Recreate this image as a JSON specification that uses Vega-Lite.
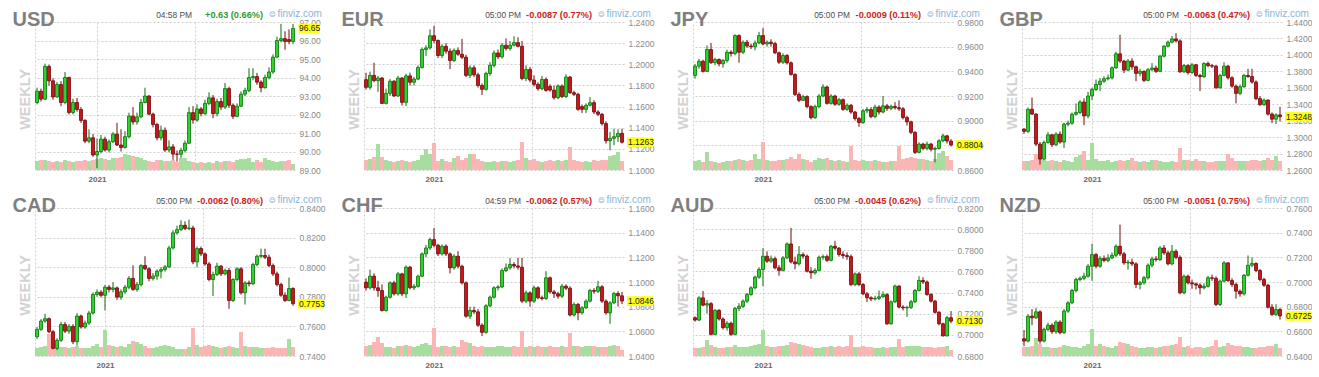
{
"$schema":"https://vega.github.io/schema/vega-lite/v6.json",
"padding":{"left":12,"top":9,"right":0,"bottom":0},
"background":"white",
"config":{"view":{"stroke":null},"font":"Liberation Sans","header":{"labels":false,"title":null,"labelFontSize":0,"labelPadding":0,"titlePadding":0},"headerFacet":{"labels":false,"title":null,"labelFontSize":0,"labelPadding":0,"titlePadding":0}},
"data":{"values":[
{"p":"USD","d":"2020-09-18","o":92.65,"h":93.45,"l":92.55,"c":93.26,"v":9},
{"p":"USD","d":"2020-09-25","o":93.26,"h":93.40,"l":92.70,"c":92.83,"v":10},
{"p":"USD","d":"2020-10-02","o":92.83,"h":94.75,"l":92.78,"c":94.60,"v":10},
{"p":"USD","d":"2020-10-09","o":94.60,"h":94.70,"l":93.55,"c":93.82,"v":9},
{"p":"USD","d":"2020-10-16","o":93.82,"h":93.95,"l":92.80,"c":92.95,"v":8},
{"p":"USD","d":"2020-10-23","o":92.95,"h":93.75,"l":92.90,"c":93.62,"v":9},
{"p":"USD","d":"2020-10-30","o":93.62,"h":93.80,"l":92.45,"c":92.65,"v":8},
{"p":"USD","d":"2020-11-06","o":92.65,"h":94.30,"l":92.55,"c":94.00,"v":10},
{"p":"USD","d":"2020-11-13","o":94.00,"h":94.05,"l":92.00,"c":92.11,"v":9},
{"p":"USD","d":"2020-11-20","o":92.11,"h":92.85,"l":92.00,"c":92.65,"v":8},
{"p":"USD","d":"2020-11-27","o":92.65,"h":92.90,"l":92.15,"c":92.27,"v":9},
{"p":"USD","d":"2020-12-04","o":92.27,"h":92.40,"l":91.55,"c":91.68,"v":9},
{"p":"USD","d":"2020-12-11","o":91.68,"h":91.75,"l":90.45,"c":90.56,"v":10},
{"p":"USD","d":"2020-12-18","o":90.56,"h":91.20,"l":90.45,"c":90.74,"v":9},
{"p":"USD","d":"2020-12-25","o":90.74,"h":90.95,"l":89.72,"c":89.81,"v":10},
{"p":"USD","d":"2021-01-01","o":89.81,"h":90.70,"l":89.10,"c":90.00,"v":11},
{"p":"USD","d":"2021-01-08","o":90.00,"h":90.90,"l":89.90,"c":90.67,"v":12},
{"p":"USD","d":"2021-01-15","o":90.67,"h":90.80,"l":90.00,"c":90.08,"v":11},
{"p":"USD","d":"2021-01-22","o":90.08,"h":90.65,"l":89.95,"c":90.53,"v":10},
{"p":"USD","d":"2021-01-29","o":90.53,"h":91.05,"l":90.45,"c":90.94,"v":12},
{"p":"USD","d":"2021-02-05","o":90.94,"h":91.55,"l":90.30,"c":90.35,"v":12},
{"p":"USD","d":"2021-02-12","o":90.35,"h":91.20,"l":90.00,"c":90.22,"v":13},
{"p":"USD","d":"2021-02-19","o":90.22,"h":91.10,"l":90.15,"c":90.80,"v":16},
{"p":"USD","d":"2021-02-26","o":90.80,"h":92.10,"l":90.70,"c":91.91,"v":15},
{"p":"USD","d":"2021-03-05","o":91.91,"h":92.40,"l":91.45,"c":91.60,"v":14},
{"p":"USD","d":"2021-03-12","o":91.60,"h":92.10,"l":91.45,"c":91.87,"v":13},
{"p":"USD","d":"2021-03-19","o":91.87,"h":92.85,"l":91.80,"c":92.65,"v":12},
{"p":"USD","d":"2021-03-26","o":92.65,"h":93.45,"l":92.60,"c":93.00,"v":10},
{"p":"USD","d":"2021-04-02","o":93.00,"h":93.05,"l":91.95,"c":92.02,"v":9},
{"p":"USD","d":"2021-04-09","o":92.02,"h":92.10,"l":91.30,"c":91.46,"v":8},
{"p":"USD","d":"2021-04-16","o":91.46,"h":91.55,"l":90.60,"c":90.74,"v":10},
{"p":"USD","d":"2021-04-23","o":90.74,"h":91.40,"l":90.60,"c":91.15,"v":10},
{"p":"USD","d":"2021-04-30","o":91.15,"h":91.30,"l":89.98,"c":90.08,"v":9},
{"p":"USD","d":"2021-05-07","o":90.08,"h":90.60,"l":89.95,"c":90.25,"v":9},
{"p":"USD","d":"2021-05-14","o":90.25,"h":90.40,"l":89.55,"c":89.86,"v":10},
{"p":"USD","d":"2021-05-21","o":89.86,"h":90.05,"l":89.45,"c":89.85,"v":8},
{"p":"USD","d":"2021-05-28","o":89.85,"h":90.20,"l":89.65,"c":90.06,"v":12},
{"p":"USD","d":"2021-06-04","o":90.06,"h":90.60,"l":89.95,"c":90.45,"v":12},
{"p":"USD","d":"2021-06-11","o":90.45,"h":92.40,"l":90.40,"c":92.10,"v":9},
{"p":"USD","d":"2021-06-18","o":92.10,"h":92.45,"l":91.50,"c":91.70,"v":8},
{"p":"USD","d":"2021-06-25","o":91.70,"h":92.55,"l":91.60,"c":92.30,"v":7},
{"p":"USD","d":"2021-07-02","o":92.30,"h":92.40,"l":91.90,"c":92.05,"v":8},
{"p":"USD","d":"2021-07-09","o":92.05,"h":92.80,"l":91.95,"c":92.60,"v":7},
{"p":"USD","d":"2021-07-16","o":92.60,"h":93.20,"l":92.50,"c":92.90,"v":8},
{"p":"USD","d":"2021-07-23","o":92.90,"h":93.05,"l":91.80,"c":92.05,"v":7},
{"p":"USD","d":"2021-07-30","o":92.05,"h":92.85,"l":91.90,"c":92.70,"v":9},
{"p":"USD","d":"2021-08-06","o":92.70,"h":92.90,"l":92.25,"c":92.40,"v":8},
{"p":"USD","d":"2021-08-13","o":92.40,"h":93.70,"l":92.30,"c":93.40,"v":9},
{"p":"USD","d":"2021-08-20","o":93.40,"h":93.50,"l":92.35,"c":92.50,"v":9},
{"p":"USD","d":"2021-08-27","o":92.50,"h":92.60,"l":91.75,"c":91.90,"v":8},
{"p":"USD","d":"2021-09-03","o":91.90,"h":92.60,"l":91.85,"c":92.45,"v":10},
{"p":"USD","d":"2021-09-10","o":92.45,"h":93.25,"l":92.40,"c":93.10,"v":11},
{"p":"USD","d":"2021-09-17","o":93.10,"h":93.45,"l":93.00,"c":93.30,"v":11},
{"p":"USD","d":"2021-09-24","o":93.30,"h":94.50,"l":93.20,"c":94.00,"v":12},
{"p":"USD","d":"2021-10-01","o":94.00,"h":94.50,"l":93.85,"c":94.05,"v":8},
{"p":"USD","d":"2021-10-08","o":94.05,"h":94.25,"l":93.60,"c":93.75,"v":10},
{"p":"USD","d":"2021-10-15","o":93.75,"h":93.85,"l":93.20,"c":93.45,"v":8},
{"p":"USD","d":"2021-10-22","o":93.45,"h":94.15,"l":93.40,"c":94.00,"v":12},
{"p":"USD","d":"2021-10-29","o":94.00,"h":94.55,"l":93.90,"c":94.30,"v":10},
{"p":"USD","d":"2021-11-05","o":94.30,"h":95.25,"l":94.20,"c":95.10,"v":9},
{"p":"USD","d":"2021-11-12","o":95.10,"h":96.20,"l":95.05,"c":96.00,"v":8},
{"p":"USD","d":"2021-11-19","o":96.00,"h":96.90,"l":95.90,"c":96.10,"v":9},
{"p":"USD","d":"2021-11-26","o":96.10,"h":96.50,"l":95.50,"c":95.95,"v":9},
{"p":"USD","d":"2021-12-03","o":96.05,"h":96.60,"l":95.80,"c":95.95,"v":10},
{"p":"USD","d":"2021-12-10","o":95.95,"h":96.90,"l":95.80,"c":96.65,"v":6,"t":"04:58 PM","chg":"+0.63 (0.66%)","tag":"96.65"},
{"p":"EUR","d":"2020-09-04","o":1.1855,"h":1.1920,"l":1.1760,"c":1.1782,"v":10},
{"p":"EUR","d":"2020-09-11","o":1.1782,"h":1.1930,"l":1.1760,"c":1.1895,"v":11},
{"p":"EUR","d":"2020-09-18","o":1.1895,"h":1.2015,"l":1.1830,"c":1.1845,"v":13},
{"p":"EUR","d":"2020-09-25","o":1.1845,"h":1.1890,"l":1.1740,"c":1.1870,"v":26},
{"p":"EUR","d":"2020-10-02","o":1.1870,"h":1.1880,"l":1.1625,"c":1.1630,"v":13},
{"p":"EUR","d":"2020-10-09","o":1.1630,"h":1.1770,"l":1.1620,"c":1.1725,"v":10},
{"p":"EUR","d":"2020-10-16","o":1.1725,"h":1.1860,"l":1.1700,"c":1.1840,"v":9},
{"p":"EUR","d":"2020-10-23","o":1.1840,"h":1.1850,"l":1.1690,"c":1.1700,"v":8},
{"p":"EUR","d":"2020-10-30","o":1.1700,"h":1.1890,"l":1.1690,"c":1.1870,"v":9},
{"p":"EUR","d":"2020-11-06","o":1.1870,"h":1.1880,"l":1.1610,"c":1.1640,"v":10},
{"p":"EUR","d":"2020-11-13","o":1.1640,"h":1.1910,"l":1.1605,"c":1.1890,"v":9},
{"p":"EUR","d":"2020-11-20","o":1.1890,"h":1.1920,"l":1.1800,"c":1.1830,"v":8},
{"p":"EUR","d":"2020-11-27","o":1.1830,"h":1.1880,"l":1.1800,"c":1.1860,"v":9},
{"p":"EUR","d":"2020-12-04","o":1.1860,"h":1.1990,"l":1.1850,"c":1.1970,"v":10},
{"p":"EUR","d":"2020-12-11","o":1.1970,"h":1.2160,"l":1.1960,"c":1.2140,"v":15},
{"p":"EUR","d":"2020-12-18","o":1.2140,"h":1.2180,"l":1.2080,"c":1.2155,"v":21},
{"p":"EUR","d":"2020-12-25","o":1.2155,"h":1.2330,"l":1.2140,"c":1.2270,"v":16},
{"p":"EUR","d":"2021-01-01","o":1.2270,"h":1.2365,"l":1.2200,"c":1.2225,"v":27},
{"p":"EUR","d":"2021-01-08","o":1.2225,"h":1.2235,"l":1.2060,"c":1.2083,"v":9},
{"p":"EUR","d":"2021-01-15","o":1.2083,"h":1.2190,"l":1.2060,"c":1.2170,"v":11},
{"p":"EUR","d":"2021-01-22","o":1.2170,"h":1.2200,"l":1.2100,"c":1.2124,"v":9},
{"p":"EUR","d":"2021-01-29","o":1.2124,"h":1.2150,"l":1.1955,"c":1.2036,"v":8},
{"p":"EUR","d":"2021-02-05","o":1.2036,"h":1.2150,"l":1.2020,"c":1.2130,"v":12},
{"p":"EUR","d":"2021-02-12","o":1.2130,"h":1.2160,"l":1.2080,"c":1.2095,"v":14},
{"p":"EUR","d":"2021-02-19","o":1.2095,"h":1.2240,"l":1.2050,"c":1.2067,"v":10},
{"p":"EUR","d":"2021-02-26","o":1.2067,"h":1.2090,"l":1.1880,"c":1.1895,"v":12},
{"p":"EUR","d":"2021-03-05","o":1.1895,"h":1.1990,"l":1.1870,"c":1.1967,"v":16},
{"p":"EUR","d":"2021-03-12","o":1.1967,"h":1.1990,"l":1.1880,"c":1.1900,"v":16},
{"p":"EUR","d":"2021-03-19","o":1.1900,"h":1.1920,"l":1.1780,"c":1.1800,"v":11},
{"p":"EUR","d":"2021-03-26","o":1.1800,"h":1.1820,"l":1.1710,"c":1.1763,"v":9},
{"p":"EUR","d":"2021-04-02","o":1.1763,"h":1.1930,"l":1.1750,"c":1.1913,"v":8},
{"p":"EUR","d":"2021-04-09","o":1.1913,"h":1.2020,"l":1.1890,"c":1.1990,"v":8},
{"p":"EUR","d":"2021-04-16","o":1.1990,"h":1.2130,"l":1.1970,"c":1.2107,"v":9},
{"p":"EUR","d":"2021-04-23","o":1.2107,"h":1.2140,"l":1.2050,"c":1.2070,"v":8},
{"p":"EUR","d":"2021-04-30","o":1.2070,"h":1.2200,"l":1.2055,"c":1.2180,"v":9},
{"p":"EUR","d":"2021-05-07","o":1.2180,"h":1.2245,"l":1.2130,"c":1.2150,"v":9},
{"p":"EUR","d":"2021-05-14","o":1.2150,"h":1.2220,"l":1.2130,"c":1.2180,"v":8},
{"p":"EUR","d":"2021-05-21","o":1.2180,"h":1.2265,"l":1.2170,"c":1.2205,"v":9},
{"p":"EUR","d":"2021-05-28","o":1.2205,"h":1.2255,"l":1.2160,"c":1.2170,"v":10},
{"p":"EUR","d":"2021-06-04","o":1.2170,"h":1.2220,"l":1.1850,"c":1.1866,"v":28},
{"p":"EUR","d":"2021-06-11","o":1.1866,"h":1.1990,"l":1.1840,"c":1.1951,"v":12},
{"p":"EUR","d":"2021-06-18","o":1.1951,"h":1.1975,"l":1.1830,"c":1.1851,"v":10},
{"p":"EUR","d":"2021-06-25","o":1.1851,"h":1.1895,"l":1.1790,"c":1.1810,"v":11},
{"p":"EUR","d":"2021-07-02","o":1.1810,"h":1.1830,"l":1.1750,"c":1.1769,"v":9},
{"p":"EUR","d":"2021-07-09","o":1.1769,"h":1.1890,"l":1.1755,"c":1.1857,"v":8},
{"p":"EUR","d":"2021-07-16","o":1.1857,"h":1.1875,"l":1.1740,"c":1.1753,"v":9},
{"p":"EUR","d":"2021-07-23","o":1.1790,"h":1.1810,"l":1.1740,"c":1.1756,"v":10},
{"p":"EUR","d":"2021-07-30","o":1.1756,"h":1.1800,"l":1.1665,"c":1.1684,"v":9},
{"p":"EUR","d":"2021-08-06","o":1.1684,"h":1.1810,"l":1.1670,"c":1.1794,"v":10},
{"p":"EUR","d":"2021-08-13","o":1.1794,"h":1.1810,"l":1.1680,"c":1.1694,"v":9},
{"p":"EUR","d":"2021-08-20","o":1.1694,"h":1.1905,"l":1.1680,"c":1.1879,"v":10},
{"p":"EUR","d":"2021-08-27","o":1.1879,"h":1.1890,"l":1.1720,"c":1.1731,"v":23},
{"p":"EUR","d":"2021-09-03","o":1.1731,"h":1.1750,"l":1.1700,"c":1.1716,"v":10},
{"p":"EUR","d":"2021-09-10","o":1.1716,"h":1.1730,"l":1.1560,"c":1.1574,"v":9},
{"p":"EUR","d":"2021-09-17","o":1.1600,"h":1.1620,"l":1.1540,"c":1.1574,"v":8},
{"p":"EUR","d":"2021-09-24","o":1.1574,"h":1.1630,"l":1.1540,"c":1.1612,"v":9},
{"p":"EUR","d":"2021-10-01","o":1.1612,"h":1.1690,"l":1.1600,"c":1.1637,"v":8},
{"p":"EUR","d":"2021-10-08","o":1.1637,"h":1.1660,"l":1.1530,"c":1.1549,"v":10},
{"p":"EUR","d":"2021-10-15","o":1.1549,"h":1.1565,"l":1.1510,"c":1.1527,"v":9},
{"p":"EUR","d":"2021-10-22","o":1.1527,"h":1.1540,"l":1.1420,"c":1.1439,"v":10},
{"p":"EUR","d":"2021-10-29","o":1.1439,"h":1.1460,"l":1.1250,"c":1.1276,"v":10},
{"p":"EUR","d":"2021-11-05","o":1.1276,"h":1.1360,"l":1.1186,"c":1.1300,"v":14},
{"p":"EUR","d":"2021-11-12","o":1.1300,"h":1.1390,"l":1.1235,"c":1.1315,"v":15},
{"p":"EUR","d":"2021-11-19","o":1.1315,"h":1.1385,"l":1.1265,"c":1.1347,"v":18},
{"p":"EUR","d":"2021-11-26","o":1.1347,"h":1.1390,"l":1.1250,"c":1.1263,"v":9,"t":"05:00 PM","chg":"-0.0087 (0.77%)","tag":"1.1263"},
{"p":"JPY","d":"2020-09-04","o":0.9367,"h":0.9460,"l":0.9340,"c":0.9442,"v":9},
{"p":"JPY","d":"2020-09-11","o":0.9442,"h":0.9500,"l":0.9420,"c":0.9482,"v":10},
{"p":"JPY","d":"2020-09-18","o":0.9482,"h":0.9495,"l":0.9390,"c":0.9400,"v":8},
{"p":"JPY","d":"2020-09-25","o":0.9400,"h":0.9610,"l":0.9395,"c":0.9577,"v":18},
{"p":"JPY","d":"2020-10-02","o":0.9577,"h":0.9630,"l":0.9460,"c":0.9470,"v":9},
{"p":"JPY","d":"2020-10-09","o":0.9470,"h":0.9510,"l":0.9450,"c":0.9496,"v":8},
{"p":"JPY","d":"2020-10-16","o":0.9496,"h":0.9505,"l":0.9440,"c":0.9461,"v":7},
{"p":"JPY","d":"2020-10-23","o":0.9461,"h":0.9500,"l":0.9430,"c":0.9488,"v":8},
{"p":"JPY","d":"2020-10-30","o":0.9488,"h":0.9575,"l":0.9470,"c":0.9555,"v":9},
{"p":"JPY","d":"2020-11-06","o":0.9555,"h":0.9570,"l":0.9520,"c":0.9545,"v":9},
{"p":"JPY","d":"2020-11-13","o":0.9545,"h":0.9700,"l":0.9530,"c":0.9690,"v":10},
{"p":"JPY","d":"2020-11-20","o":0.9690,"h":0.9700,"l":0.9470,"c":0.9555,"v":11},
{"p":"JPY","d":"2020-11-27","o":0.9555,"h":0.9650,"l":0.9540,"c":0.9636,"v":10},
{"p":"JPY","d":"2020-12-04","o":0.9636,"h":0.9655,"l":0.9590,"c":0.9605,"v":9},
{"p":"JPY","d":"2020-12-11","o":0.9605,"h":0.9625,"l":0.9580,"c":0.9600,"v":10},
{"p":"JPY","d":"2020-12-18","o":0.9600,"h":0.9650,"l":0.9570,"c":0.9630,"v":16},
{"p":"JPY","d":"2020-12-25","o":0.9630,"h":0.9720,"l":0.9620,"c":0.9690,"v":11},
{"p":"JPY","d":"2021-01-01","o":0.9690,"h":0.9750,"l":0.9610,"c":0.9622,"v":28},
{"p":"JPY","d":"2021-01-08","o":0.9622,"h":0.9650,"l":0.9600,"c":0.9636,"v":10},
{"p":"JPY","d":"2021-01-15","o":0.9636,"h":0.9660,"l":0.9600,"c":0.9625,"v":9},
{"p":"JPY","d":"2021-01-22","o":0.9625,"h":0.9640,"l":0.9540,"c":0.9550,"v":9},
{"p":"JPY","d":"2021-01-29","o":0.9550,"h":0.9560,"l":0.9460,"c":0.9474,"v":10},
{"p":"JPY","d":"2021-02-05","o":0.9474,"h":0.9545,"l":0.9460,"c":0.9528,"v":10},
{"p":"JPY","d":"2021-02-12","o":0.9528,"h":0.9540,"l":0.9455,"c":0.9469,"v":11},
{"p":"JPY","d":"2021-02-19","o":0.9469,"h":0.9480,"l":0.9365,"c":0.9375,"v":13},
{"p":"JPY","d":"2021-02-26","o":0.9375,"h":0.9385,"l":0.9200,"c":0.9213,"v":11},
{"p":"JPY","d":"2021-03-05","o":0.9213,"h":0.9230,"l":0.9150,"c":0.9165,"v":16},
{"p":"JPY","d":"2021-03-12","o":0.9165,"h":0.9210,"l":0.9160,"c":0.9195,"v":11},
{"p":"JPY","d":"2021-03-19","o":0.9195,"h":0.9205,"l":0.9100,"c":0.9114,"v":10},
{"p":"JPY","d":"2021-03-26","o":0.9114,"h":0.9125,"l":0.9010,"c":0.9025,"v":8},
{"p":"JPY","d":"2021-04-02","o":0.9025,"h":0.9130,"l":0.9015,"c":0.9114,"v":10},
{"p":"JPY","d":"2021-04-09","o":0.9114,"h":0.9215,"l":0.9100,"c":0.9200,"v":12},
{"p":"JPY","d":"2021-04-16","o":0.9200,"h":0.9295,"l":0.9190,"c":0.9273,"v":11},
{"p":"JPY","d":"2021-04-23","o":0.9273,"h":0.9285,"l":0.9130,"c":0.9140,"v":12},
{"p":"JPY","d":"2021-04-30","o":0.9140,"h":0.9215,"l":0.9130,"c":0.9200,"v":10},
{"p":"JPY","d":"2021-05-07","o":0.9200,"h":0.9210,"l":0.9120,"c":0.9133,"v":9},
{"p":"JPY","d":"2021-05-14","o":0.9133,"h":0.9185,"l":0.9120,"c":0.9170,"v":10},
{"p":"JPY","d":"2021-05-21","o":0.9170,"h":0.9180,"l":0.9080,"c":0.9092,"v":9},
{"p":"JPY","d":"2021-05-28","o":0.9092,"h":0.9140,"l":0.9080,"c":0.9125,"v":8},
{"p":"JPY","d":"2021-06-04","o":0.9125,"h":0.9135,"l":0.9055,"c":0.9070,"v":24},
{"p":"JPY","d":"2021-06-11","o":0.9070,"h":0.9080,"l":0.9000,"c":0.9017,"v":10},
{"p":"JPY","d":"2021-06-18","o":0.9017,"h":0.9030,"l":0.8950,"c":0.8985,"v":9},
{"p":"JPY","d":"2021-06-25","o":0.8985,"h":0.9095,"l":0.8975,"c":0.9080,"v":10},
{"p":"JPY","d":"2021-07-02","o":0.9080,"h":0.9110,"l":0.9060,"c":0.9090,"v":9},
{"p":"JPY","d":"2021-07-09","o":0.9090,"h":0.9110,"l":0.9020,"c":0.9033,"v":9},
{"p":"JPY","d":"2021-07-16","o":0.9033,"h":0.9130,"l":0.9020,"c":0.9110,"v":10},
{"p":"JPY","d":"2021-07-23","o":0.9110,"h":0.9125,"l":0.9050,"c":0.9070,"v":9},
{"p":"JPY","d":"2021-07-30","o":0.9070,"h":0.9200,"l":0.9060,"c":0.9120,"v":8},
{"p":"JPY","d":"2021-08-06","o":0.9120,"h":0.9135,"l":0.9080,"c":0.9100,"v":8},
{"p":"JPY","d":"2021-08-13","o":0.9100,"h":0.9130,"l":0.9085,"c":0.9115,"v":9},
{"p":"JPY","d":"2021-08-20","o":0.9115,"h":0.9150,"l":0.9090,"c":0.9105,"v":9},
{"p":"JPY","d":"2021-08-27","o":0.9105,"h":0.9165,"l":0.9080,"c":0.9096,"v":24},
{"p":"JPY","d":"2021-09-03","o":0.9096,"h":0.9110,"l":0.9010,"c":0.9025,"v":11},
{"p":"JPY","d":"2021-09-10","o":0.9025,"h":0.9040,"l":0.8960,"c":0.8990,"v":12},
{"p":"JPY","d":"2021-09-17","o":0.8990,"h":0.9000,"l":0.8890,"c":0.8905,"v":13},
{"p":"JPY","d":"2021-09-24","o":0.8905,"h":0.8915,"l":0.8730,"c":0.8743,"v":12},
{"p":"JPY","d":"2021-10-01","o":0.8743,"h":0.8825,"l":0.8735,"c":0.8810,"v":11},
{"p":"JPY","d":"2021-10-08","o":0.8810,"h":0.8820,"l":0.8760,"c":0.8775,"v":11},
{"p":"JPY","d":"2021-10-15","o":0.8775,"h":0.8830,"l":0.8760,"c":0.8810,"v":10},
{"p":"JPY","d":"2021-10-22","o":0.8810,"h":0.8820,"l":0.8750,"c":0.8768,"v":9},
{"p":"JPY","d":"2021-10-29","o":0.8768,"h":0.8790,"l":0.8662,"c":0.8775,"v":11},
{"p":"JPY","d":"2021-11-05","o":0.8775,"h":0.8850,"l":0.8765,"c":0.8837,"v":17},
{"p":"JPY","d":"2021-11-12","o":0.8837,"h":0.8895,"l":0.8825,"c":0.8877,"v":19},
{"p":"JPY","d":"2021-11-19","o":0.8877,"h":0.8885,"l":0.8815,"c":0.8835,"v":14},
{"p":"JPY","d":"2021-11-26","o":0.8835,"h":0.8850,"l":0.8790,"c":0.8804,"v":10,"t":"05:00 PM","chg":"-0.0009 (0.11%)","tag":"0.8804"},
{"p":"GBP","d":"2020-09-04","o":1.3097,"h":1.3110,"l":1.3040,"c":1.3070,"v":9},
{"p":"GBP","d":"2020-09-11","o":1.3070,"h":1.3360,"l":1.3050,"c":1.3339,"v":9},
{"p":"GBP","d":"2020-09-18","o":1.3339,"h":1.3480,"l":1.3270,"c":1.3280,"v":10},
{"p":"GBP","d":"2020-09-25","o":1.3280,"h":1.3290,"l":1.2890,"c":1.2915,"v":16},
{"p":"GBP","d":"2020-10-02","o":1.2915,"h":1.2940,"l":1.2665,"c":1.2733,"v":11},
{"p":"GBP","d":"2020-10-09","o":1.2733,"h":1.2960,"l":1.2720,"c":1.2935,"v":10},
{"p":"GBP","d":"2020-10-16","o":1.2935,"h":1.3060,"l":1.2920,"c":1.3028,"v":9},
{"p":"GBP","d":"2020-10-23","o":1.3028,"h":1.3040,"l":1.2880,"c":1.2907,"v":10},
{"p":"GBP","d":"2020-10-30","o":1.2907,"h":1.3060,"l":1.2890,"c":1.3036,"v":9},
{"p":"GBP","d":"2020-11-06","o":1.3036,"h":1.3070,"l":1.2920,"c":1.2940,"v":8},
{"p":"GBP","d":"2020-11-13","o":1.2940,"h":1.3175,"l":1.2870,"c":1.3157,"v":10},
{"p":"GBP","d":"2020-11-20","o":1.3157,"h":1.3200,"l":1.3130,"c":1.3170,"v":9},
{"p":"GBP","d":"2020-11-27","o":1.3170,"h":1.3300,"l":1.3150,"c":1.3278,"v":8},
{"p":"GBP","d":"2020-12-04","o":1.3278,"h":1.3410,"l":1.3260,"c":1.3300,"v":13},
{"p":"GBP","d":"2020-12-11","o":1.3300,"h":1.3450,"l":1.3280,"c":1.3427,"v":15},
{"p":"GBP","d":"2020-12-18","o":1.3427,"h":1.3470,"l":1.3145,"c":1.3258,"v":19},
{"p":"GBP","d":"2020-12-25","o":1.3258,"h":1.3550,"l":1.3230,"c":1.3500,"v":10},
{"p":"GBP","d":"2021-01-01","o":1.3500,"h":1.3600,"l":1.3450,"c":1.3580,"v":27},
{"p":"GBP","d":"2021-01-08","o":1.3580,"h":1.3700,"l":1.3560,"c":1.3640,"v":11},
{"p":"GBP","d":"2021-01-15","o":1.3640,"h":1.3720,"l":1.3560,"c":1.3680,"v":9},
{"p":"GBP","d":"2021-01-22","o":1.3680,"h":1.3740,"l":1.3660,"c":1.3710,"v":9},
{"p":"GBP","d":"2021-01-29","o":1.3710,"h":1.3760,"l":1.3690,"c":1.3720,"v":10},
{"p":"GBP","d":"2021-02-05","o":1.3720,"h":1.3860,"l":1.3700,"c":1.3843,"v":8},
{"p":"GBP","d":"2021-02-12","o":1.3843,"h":1.4040,"l":1.3830,"c":1.4013,"v":9},
{"p":"GBP","d":"2021-02-19","o":1.4013,"h":1.4245,"l":1.3900,"c":1.3925,"v":10},
{"p":"GBP","d":"2021-02-26","o":1.3925,"h":1.3940,"l":1.3780,"c":1.3815,"v":9},
{"p":"GBP","d":"2021-03-05","o":1.3815,"h":1.3950,"l":1.3800,"c":1.3925,"v":10},
{"p":"GBP","d":"2021-03-12","o":1.3925,"h":1.3960,"l":1.3820,"c":1.3855,"v":12},
{"p":"GBP","d":"2021-03-19","o":1.3855,"h":1.3870,"l":1.3680,"c":1.3775,"v":9},
{"p":"GBP","d":"2021-03-26","o":1.3775,"h":1.3830,"l":1.3740,"c":1.3800,"v":8},
{"p":"GBP","d":"2021-04-02","o":1.3800,"h":1.3810,"l":1.3670,"c":1.3690,"v":9},
{"p":"GBP","d":"2021-04-09","o":1.3690,"h":1.3840,"l":1.3680,"c":1.3820,"v":8},
{"p":"GBP","d":"2021-04-16","o":1.3820,"h":1.3900,"l":1.3800,"c":1.3840,"v":10},
{"p":"GBP","d":"2021-04-23","o":1.3840,"h":1.3870,"l":1.3780,"c":1.3800,"v":10},
{"p":"GBP","d":"2021-04-30","o":1.3800,"h":1.4000,"l":1.3790,"c":1.3984,"v":9},
{"p":"GBP","d":"2021-05-07","o":1.3984,"h":1.4120,"l":1.3970,"c":1.4105,"v":8},
{"p":"GBP","d":"2021-05-14","o":1.4105,"h":1.4175,"l":1.4090,"c":1.4155,"v":8},
{"p":"GBP","d":"2021-05-21","o":1.4155,"h":1.4230,"l":1.4140,"c":1.4194,"v":9},
{"p":"GBP","d":"2021-05-28","o":1.4194,"h":1.4265,"l":1.4150,"c":1.4170,"v":8},
{"p":"GBP","d":"2021-06-04","o":1.4170,"h":1.4190,"l":1.3780,"c":1.3795,"v":22},
{"p":"GBP","d":"2021-06-11","o":1.3795,"h":1.3890,"l":1.3780,"c":1.3870,"v":10},
{"p":"GBP","d":"2021-06-18","o":1.3870,"h":1.3890,"l":1.3760,"c":1.3785,"v":10},
{"p":"GBP","d":"2021-06-25","o":1.3785,"h":1.3900,"l":1.3770,"c":1.3880,"v":9},
{"p":"GBP","d":"2021-07-02","o":1.3880,"h":1.3890,"l":1.3730,"c":1.3750,"v":11},
{"p":"GBP","d":"2021-07-09","o":1.3750,"h":1.3770,"l":1.3560,"c":1.3735,"v":9},
{"p":"GBP","d":"2021-07-16","o":1.3735,"h":1.3910,"l":1.3720,"c":1.3895,"v":9},
{"p":"GBP","d":"2021-07-23","o":1.3895,"h":1.3920,"l":1.3850,"c":1.3870,"v":8},
{"p":"GBP","d":"2021-07-30","o":1.3870,"h":1.3890,"l":1.3840,"c":1.3863,"v":8},
{"p":"GBP","d":"2021-08-06","o":1.3863,"h":1.3880,"l":1.3590,"c":1.3600,"v":9},
{"p":"GBP","d":"2021-08-13","o":1.3600,"h":1.3770,"l":1.3590,"c":1.3750,"v":9},
{"p":"GBP","d":"2021-08-20","o":1.3750,"h":1.3910,"l":1.3740,"c":1.3863,"v":9},
{"p":"GBP","d":"2021-08-27","o":1.3863,"h":1.3880,"l":1.3700,"c":1.3722,"v":16},
{"p":"GBP","d":"2021-09-03","o":1.3722,"h":1.3740,"l":1.3600,"c":1.3620,"v":12},
{"p":"GBP","d":"2021-09-10","o":1.3620,"h":1.3640,"l":1.3411,"c":1.3532,"v":9},
{"p":"GBP","d":"2021-09-17","o":1.3532,"h":1.3640,"l":1.3510,"c":1.3613,"v":9},
{"p":"GBP","d":"2021-09-24","o":1.3613,"h":1.3770,"l":1.3600,"c":1.3750,"v":9},
{"p":"GBP","d":"2021-10-01","o":1.3750,"h":1.3830,"l":1.3720,"c":1.3737,"v":9},
{"p":"GBP","d":"2021-10-08","o":1.3737,"h":1.3830,"l":1.3650,"c":1.3670,"v":10},
{"p":"GBP","d":"2021-10-15","o":1.3670,"h":1.3690,"l":1.3450,"c":1.3468,"v":10},
{"p":"GBP","d":"2021-10-22","o":1.3468,"h":1.3500,"l":1.3380,"c":1.3395,"v":9},
{"p":"GBP","d":"2021-10-29","o":1.3395,"h":1.3470,"l":1.3380,"c":1.3450,"v":10},
{"p":"GBP","d":"2021-11-05","o":1.3450,"h":1.3460,"l":1.3260,"c":1.3280,"v":12},
{"p":"GBP","d":"2021-11-12","o":1.3280,"h":1.3300,"l":1.3170,"c":1.3218,"v":10},
{"p":"GBP","d":"2021-11-19","o":1.3218,"h":1.3290,"l":1.3160,"c":1.3270,"v":14},
{"p":"GBP","d":"2021-11-26","o":1.3270,"h":1.3370,"l":1.3190,"c":1.3248,"v":9,"t":"05:00 PM","chg":"-0.0063 (0.47%)","tag":"1.3248"},
{"p":"CAD","d":"2020-09-04","o":0.7530,"h":0.7595,"l":0.7515,"c":0.7580,"v":8},
{"p":"CAD","d":"2020-09-11","o":0.7580,"h":0.7650,"l":0.7570,"c":0.7636,"v":9},
{"p":"CAD","d":"2020-09-18","o":0.7636,"h":0.7685,"l":0.7625,"c":0.7652,"v":10},
{"p":"CAD","d":"2020-09-25","o":0.7652,"h":0.7660,"l":0.7555,"c":0.7564,"v":22},
{"p":"CAD","d":"2020-10-02","o":0.7564,"h":0.7575,"l":0.7445,"c":0.7452,"v":9},
{"p":"CAD","d":"2020-10-09","o":0.7452,"h":0.7520,"l":0.7440,"c":0.7506,"v":8},
{"p":"CAD","d":"2020-10-16","o":0.7506,"h":0.7630,"l":0.7495,"c":0.7613,"v":9},
{"p":"CAD","d":"2020-10-23","o":0.7613,"h":0.7630,"l":0.7555,"c":0.7568,"v":9},
{"p":"CAD","d":"2020-10-30","o":0.7568,"h":0.7615,"l":0.7550,"c":0.7600,"v":8},
{"p":"CAD","d":"2020-11-06","o":0.7600,"h":0.7615,"l":0.7480,"c":0.7497,"v":9},
{"p":"CAD","d":"2020-11-13","o":0.7497,"h":0.7690,"l":0.7470,"c":0.7670,"v":10},
{"p":"CAD","d":"2020-11-20","o":0.7670,"h":0.7680,"l":0.7585,"c":0.7596,"v":8},
{"p":"CAD","d":"2020-11-27","o":0.7596,"h":0.7640,"l":0.7585,"c":0.7623,"v":8},
{"p":"CAD","d":"2020-12-04","o":0.7623,"h":0.7705,"l":0.7610,"c":0.7690,"v":8},
{"p":"CAD","d":"2020-12-11","o":0.7690,"h":0.7830,"l":0.7680,"c":0.7816,"v":10},
{"p":"CAD","d":"2020-12-18","o":0.7816,"h":0.7850,"l":0.7800,"c":0.7831,"v":12},
{"p":"CAD","d":"2020-12-25","o":0.7831,"h":0.7845,"l":0.7795,"c":0.7810,"v":9},
{"p":"CAD","d":"2021-01-01","o":0.7810,"h":0.7880,"l":0.7708,"c":0.7865,"v":26},
{"p":"CAD","d":"2021-01-08","o":0.7865,"h":0.7880,"l":0.7830,"c":0.7850,"v":11},
{"p":"CAD","d":"2021-01-15","o":0.7850,"h":0.7900,"l":0.7830,"c":0.7860,"v":10},
{"p":"CAD","d":"2021-01-22","o":0.7860,"h":0.7870,"l":0.7780,"c":0.7798,"v":9},
{"p":"CAD","d":"2021-01-29","o":0.7798,"h":0.7850,"l":0.7780,"c":0.7834,"v":10},
{"p":"CAD","d":"2021-02-05","o":0.7834,"h":0.7880,"l":0.7820,"c":0.7865,"v":9},
{"p":"CAD","d":"2021-02-12","o":0.7865,"h":0.7940,"l":0.7850,"c":0.7924,"v":12},
{"p":"CAD","d":"2021-02-19","o":0.7924,"h":0.8013,"l":0.7840,"c":0.7850,"v":15},
{"p":"CAD","d":"2021-02-26","o":0.7850,"h":0.7900,"l":0.7835,"c":0.7883,"v":14},
{"p":"CAD","d":"2021-03-05","o":0.7883,"h":0.8020,"l":0.7870,"c":0.8011,"v":12},
{"p":"CAD","d":"2021-03-12","o":0.8011,"h":0.8074,"l":0.7980,"c":0.7989,"v":10},
{"p":"CAD","d":"2021-03-19","o":0.7989,"h":0.8000,"l":0.7905,"c":0.7924,"v":8},
{"p":"CAD","d":"2021-03-26","o":0.7924,"h":0.7960,"l":0.7910,"c":0.7940,"v":8},
{"p":"CAD","d":"2021-04-02","o":0.7940,"h":0.7985,"l":0.7915,"c":0.7973,"v":9},
{"p":"CAD","d":"2021-04-09","o":0.7973,"h":0.8000,"l":0.7925,"c":0.7984,"v":10},
{"p":"CAD","d":"2021-04-16","o":0.7984,"h":0.8015,"l":0.7970,"c":0.8002,"v":11},
{"p":"CAD","d":"2021-04-23","o":0.8002,"h":0.8145,"l":0.7995,"c":0.8130,"v":10},
{"p":"CAD","d":"2021-04-30","o":0.8130,"h":0.8250,"l":0.8120,"c":0.8232,"v":9},
{"p":"CAD","d":"2021-05-07","o":0.8232,"h":0.8280,"l":0.8220,"c":0.8254,"v":7},
{"p":"CAD","d":"2021-05-14","o":0.8254,"h":0.8317,"l":0.8245,"c":0.8283,"v":7},
{"p":"CAD","d":"2021-05-21","o":0.8283,"h":0.8310,"l":0.8250,"c":0.8262,"v":7},
{"p":"CAD","d":"2021-05-28","o":0.8262,"h":0.8322,"l":0.8250,"c":0.8265,"v":9},
{"p":"CAD","d":"2021-06-04","o":0.8265,"h":0.8280,"l":0.8020,"c":0.8036,"v":28},
{"p":"CAD","d":"2021-06-11","o":0.8036,"h":0.8140,"l":0.8000,"c":0.8126,"v":11},
{"p":"CAD","d":"2021-06-18","o":0.8126,"h":0.8140,"l":0.8075,"c":0.8090,"v":9},
{"p":"CAD","d":"2021-06-25","o":0.8090,"h":0.8100,"l":0.8010,"c":0.8022,"v":10},
{"p":"CAD","d":"2021-07-02","o":0.8022,"h":0.8035,"l":0.7905,"c":0.7917,"v":11},
{"p":"CAD","d":"2021-07-09","o":0.7917,"h":0.7970,"l":0.7805,"c":0.7950,"v":10},
{"p":"CAD","d":"2021-07-16","o":0.7950,"h":0.8030,"l":0.7940,"c":0.8007,"v":9},
{"p":"CAD","d":"2021-07-23","o":0.8007,"h":0.8015,"l":0.7940,"c":0.7955,"v":8},
{"p":"CAD","d":"2021-07-30","o":0.7955,"h":0.7990,"l":0.7945,"c":0.7978,"v":9},
{"p":"CAD","d":"2021-08-06","o":0.7978,"h":0.7995,"l":0.7719,"c":0.7775,"v":10},
{"p":"CAD","d":"2021-08-13","o":0.7775,"h":0.7925,"l":0.7765,"c":0.7917,"v":9},
{"p":"CAD","d":"2021-08-20","o":0.7917,"h":0.8000,"l":0.7905,"c":0.7989,"v":8},
{"p":"CAD","d":"2021-08-27","o":0.7989,"h":0.8000,"l":0.7815,"c":0.7827,"v":24},
{"p":"CAD","d":"2021-09-03","o":0.7827,"h":0.7905,"l":0.7748,"c":0.7894,"v":10},
{"p":"CAD","d":"2021-09-10","o":0.7894,"h":0.7910,"l":0.7870,"c":0.7888,"v":9},
{"p":"CAD","d":"2021-09-17","o":0.7888,"h":0.8030,"l":0.7880,"c":0.8018,"v":9},
{"p":"CAD","d":"2021-09-24","o":0.8018,"h":0.8085,"l":0.8005,"c":0.8074,"v":9},
{"p":"CAD","d":"2021-10-01","o":0.8074,"h":0.8125,"l":0.8060,"c":0.8079,"v":8},
{"p":"CAD","d":"2021-10-08","o":0.8079,"h":0.8125,"l":0.8055,"c":0.8067,"v":8},
{"p":"CAD","d":"2021-10-15","o":0.8067,"h":0.8085,"l":0.8000,"c":0.8011,"v":8},
{"p":"CAD","d":"2021-10-22","o":0.8011,"h":0.8025,"l":0.7940,"c":0.7955,"v":9},
{"p":"CAD","d":"2021-10-29","o":0.7955,"h":0.7970,"l":0.7870,"c":0.7883,"v":8},
{"p":"CAD","d":"2021-11-05","o":0.7883,"h":0.7895,"l":0.7800,"c":0.7811,"v":8},
{"p":"CAD","d":"2021-11-12","o":0.7811,"h":0.7830,"l":0.7765,"c":0.7775,"v":8},
{"p":"CAD","d":"2021-11-19","o":0.7775,"h":0.7930,"l":0.7770,"c":0.7856,"v":17},
{"p":"CAD","d":"2021-11-26","o":0.7856,"h":0.7865,"l":0.7740,"c":0.7753,"v":9,"t":"05:00 PM","chg":"-0.0062 (0.80%)","tag":"0.7753"},
{"p":"CHF","d":"2020-09-04","o":1.0999,"h":1.1030,"l":1.0930,"c":1.0953,"v":10},
{"p":"CHF","d":"2020-09-11","o":1.0953,"h":1.1100,"l":1.0940,"c":1.1047,"v":11},
{"p":"CHF","d":"2020-09-18","o":1.1047,"h":1.1070,"l":1.0930,"c":1.0953,"v":14},
{"p":"CHF","d":"2020-09-25","o":1.0953,"h":1.1010,"l":1.0880,"c":1.0931,"v":19},
{"p":"CHF","d":"2020-10-02","o":1.0931,"h":1.0980,"l":1.0760,"c":1.0769,"v":13},
{"p":"CHF","d":"2020-10-09","o":1.0769,"h":1.0890,"l":1.0760,"c":1.0877,"v":9},
{"p":"CHF","d":"2020-10-16","o":1.0877,"h":1.1005,"l":1.0865,"c":1.0993,"v":9},
{"p":"CHF","d":"2020-10-23","o":1.0993,"h":1.1010,"l":1.0890,"c":1.0904,"v":8},
{"p":"CHF","d":"2020-10-30","o":1.0904,"h":1.1080,"l":1.0890,"c":1.1066,"v":10},
{"p":"CHF","d":"2020-11-06","o":1.1066,"h":1.1075,"l":1.0885,"c":1.0904,"v":10},
{"p":"CHF","d":"2020-11-13","o":1.0904,"h":1.1135,"l":1.0870,"c":1.1120,"v":11},
{"p":"CHF","d":"2020-11-20","o":1.1120,"h":1.1130,"l":1.0940,"c":1.0953,"v":10},
{"p":"CHF","d":"2020-11-27","o":1.0953,"h":1.0985,"l":1.0935,"c":1.0965,"v":9},
{"p":"CHF","d":"2020-12-04","o":1.0965,"h":1.1060,"l":1.0955,"c":1.1047,"v":10},
{"p":"CHF","d":"2020-12-11","o":1.1047,"h":1.1240,"l":1.1040,"c":1.1228,"v":12},
{"p":"CHF","d":"2020-12-18","o":1.1228,"h":1.1300,"l":1.1200,"c":1.1276,"v":13},
{"p":"CHF","d":"2020-12-25","o":1.1276,"h":1.1360,"l":1.1260,"c":1.1344,"v":11},
{"p":"CHF","d":"2021-01-01","o":1.1344,"h":1.1438,"l":1.1280,"c":1.1298,"v":28},
{"p":"CHF","d":"2021-01-08","o":1.1298,"h":1.1310,"l":1.1210,"c":1.1228,"v":9},
{"p":"CHF","d":"2021-01-15","o":1.1228,"h":1.1305,"l":1.1215,"c":1.1290,"v":10},
{"p":"CHF","d":"2021-01-22","o":1.1290,"h":1.1305,"l":1.1210,"c":1.1228,"v":10},
{"p":"CHF","d":"2021-01-29","o":1.1228,"h":1.1240,"l":1.1070,"c":1.1115,"v":9},
{"p":"CHF","d":"2021-02-05","o":1.1115,"h":1.1225,"l":1.1100,"c":1.1209,"v":10},
{"p":"CHF","d":"2021-02-12","o":1.1209,"h":1.1250,"l":1.1110,"c":1.1128,"v":9},
{"p":"CHF","d":"2021-02-19","o":1.1128,"h":1.1140,"l":1.0980,"c":1.0993,"v":16},
{"p":"CHF","d":"2021-02-26","o":1.0993,"h":1.1005,"l":1.0710,"c":1.0723,"v":14},
{"p":"CHF","d":"2021-03-05","o":1.0723,"h":1.0800,"l":1.0700,"c":1.0769,"v":13},
{"p":"CHF","d":"2021-03-12","o":1.0769,"h":1.0800,"l":1.0740,"c":1.0758,"v":10},
{"p":"CHF","d":"2021-03-19","o":1.0758,"h":1.0780,"l":1.0635,"c":1.0650,"v":9},
{"p":"CHF","d":"2021-03-26","o":1.0650,"h":1.0665,"l":1.0562,"c":1.0592,"v":10},
{"p":"CHF","d":"2021-04-02","o":1.0592,"h":1.0820,"l":1.0580,"c":1.0807,"v":9},
{"p":"CHF","d":"2021-04-09","o":1.0807,"h":1.0890,"l":1.0795,"c":1.0877,"v":9},
{"p":"CHF","d":"2021-04-16","o":1.0877,"h":1.0965,"l":1.0865,"c":1.0953,"v":9},
{"p":"CHF","d":"2021-04-23","o":1.0953,"h":1.0975,"l":1.0930,"c":1.0960,"v":10},
{"p":"CHF","d":"2021-04-30","o":1.0960,"h":1.1110,"l":1.0950,"c":1.1093,"v":10},
{"p":"CHF","d":"2021-05-07","o":1.1093,"h":1.1150,"l":1.1080,"c":1.1115,"v":9},
{"p":"CHF","d":"2021-05-14","o":1.1115,"h":1.1195,"l":1.1100,"c":1.1142,"v":9},
{"p":"CHF","d":"2021-05-21","o":1.1142,"h":1.1160,"l":1.1110,"c":1.1130,"v":10},
{"p":"CHF","d":"2021-05-28","o":1.1130,"h":1.1196,"l":1.1100,"c":1.1120,"v":9},
{"p":"CHF","d":"2021-06-04","o":1.1120,"h":1.1196,"l":1.0830,"c":1.0845,"v":25},
{"p":"CHF","d":"2021-06-11","o":1.0845,"h":1.0930,"l":1.0830,"c":1.0912,"v":9},
{"p":"CHF","d":"2021-06-18","o":1.0912,"h":1.0925,"l":1.0800,"c":1.0845,"v":10},
{"p":"CHF","d":"2021-06-25","o":1.0845,"h":1.0970,"l":1.0830,"c":1.0953,"v":9},
{"p":"CHF","d":"2021-07-02","o":1.0953,"h":1.0965,"l":1.0860,"c":1.0872,"v":10},
{"p":"CHF","d":"2021-07-09","o":1.0872,"h":1.0890,"l":1.0850,"c":1.0866,"v":9},
{"p":"CHF","d":"2021-07-16","o":1.0866,"h":1.1088,"l":1.0855,"c":1.1034,"v":9},
{"p":"CHF","d":"2021-07-23","o":1.1034,"h":1.1045,"l":1.0905,"c":1.0920,"v":10},
{"p":"CHF","d":"2021-07-30","o":1.0920,"h":1.0935,"l":1.0870,"c":1.0905,"v":9},
{"p":"CHF","d":"2021-08-06","o":1.0905,"h":1.0920,"l":1.0865,"c":1.0885,"v":9},
{"p":"CHF","d":"2021-08-13","o":1.0885,"h":1.0985,"l":1.0870,"c":1.0966,"v":10},
{"p":"CHF","d":"2021-08-20","o":1.0966,"h":1.0980,"l":1.0935,"c":1.0950,"v":9},
{"p":"CHF","d":"2021-08-27","o":1.0950,"h":1.0965,"l":1.0720,"c":1.0732,"v":23},
{"p":"CHF","d":"2021-09-03","o":1.0732,"h":1.0835,"l":1.0720,"c":1.0818,"v":10},
{"p":"CHF","d":"2021-09-10","o":1.0818,"h":1.0830,"l":1.0690,"c":1.0750,"v":10},
{"p":"CHF","d":"2021-09-17","o":1.0750,"h":1.0805,"l":1.0735,"c":1.0791,"v":9},
{"p":"CHF","d":"2021-09-24","o":1.0791,"h":1.0860,"l":1.0780,"c":1.0845,"v":10},
{"p":"CHF","d":"2021-10-01","o":1.0845,"h":1.0945,"l":1.0835,"c":1.0931,"v":10},
{"p":"CHF","d":"2021-10-08","o":1.0931,"h":1.0950,"l":1.0905,"c":1.0925,"v":10},
{"p":"CHF","d":"2021-10-15","o":1.0925,"h":1.1010,"l":1.0910,"c":1.0961,"v":9},
{"p":"CHF","d":"2021-10-22","o":1.0961,"h":1.0975,"l":1.0830,"c":1.0845,"v":9},
{"p":"CHF","d":"2021-10-29","o":1.0845,"h":1.0860,"l":1.0735,"c":1.0750,"v":9},
{"p":"CHF","d":"2021-11-05","o":1.0750,"h":1.0845,"l":1.0661,"c":1.0831,"v":10},
{"p":"CHF","d":"2021-11-12","o":1.0831,"h":1.0920,"l":1.0820,"c":1.0907,"v":11},
{"p":"CHF","d":"2021-11-19","o":1.0907,"h":1.0925,"l":1.0800,"c":1.0888,"v":10},
{"p":"CHF","d":"2021-11-26","o":1.0888,"h":1.0920,"l":1.0820,"c":1.0846,"v":6,"t":"04:59 PM","chg":"-0.0062 (0.57%)","tag":"1.0846"},
{"p":"AUD","d":"2020-09-04","o":0.7162,"h":0.7175,"l":0.7125,"c":0.7140,"v":8},
{"p":"AUD","d":"2020-09-11","o":0.7140,"h":0.7365,"l":0.7130,"c":0.7350,"v":8},
{"p":"AUD","d":"2020-09-18","o":0.7350,"h":0.7415,"l":0.7270,"c":0.7281,"v":9},
{"p":"AUD","d":"2020-09-25","o":0.7281,"h":0.7330,"l":0.7200,"c":0.7295,"v":16},
{"p":"AUD","d":"2020-10-02","o":0.7295,"h":0.7310,"l":0.6995,"c":0.7005,"v":11},
{"p":"AUD","d":"2020-10-09","o":0.7005,"h":0.7245,"l":0.6995,"c":0.7231,"v":9},
{"p":"AUD","d":"2020-10-16","o":0.7231,"h":0.7245,"l":0.7135,"c":0.7150,"v":8},
{"p":"AUD","d":"2020-10-23","o":0.7150,"h":0.7165,"l":0.7050,"c":0.7068,"v":8},
{"p":"AUD","d":"2020-10-30","o":0.7068,"h":0.7130,"l":0.7040,"c":0.7110,"v":9},
{"p":"AUD","d":"2020-11-06","o":0.7110,"h":0.7125,"l":0.6990,"c":0.7005,"v":9},
{"p":"AUD","d":"2020-11-13","o":0.7005,"h":0.7265,"l":0.6995,"c":0.7250,"v":11},
{"p":"AUD","d":"2020-11-20","o":0.7250,"h":0.7300,"l":0.7225,"c":0.7270,"v":9},
{"p":"AUD","d":"2020-11-27","o":0.7270,"h":0.7335,"l":0.7255,"c":0.7319,"v":9},
{"p":"AUD","d":"2020-12-04","o":0.7319,"h":0.7395,"l":0.7300,"c":0.7382,"v":9},
{"p":"AUD","d":"2020-12-11","o":0.7382,"h":0.7460,"l":0.7370,"c":0.7445,"v":10},
{"p":"AUD","d":"2020-12-18","o":0.7445,"h":0.7560,"l":0.7430,"c":0.7546,"v":11},
{"p":"AUD","d":"2020-12-25","o":0.7546,"h":0.7640,"l":0.7530,"c":0.7618,"v":12},
{"p":"AUD","d":"2021-01-01","o":0.7618,"h":0.7820,"l":0.7460,"c":0.7744,"v":26},
{"p":"AUD","d":"2021-01-08","o":0.7744,"h":0.7790,"l":0.7680,"c":0.7697,"v":10},
{"p":"AUD","d":"2021-01-15","o":0.7697,"h":0.7750,"l":0.7680,"c":0.7720,"v":9},
{"p":"AUD","d":"2021-01-22","o":0.7720,"h":0.7740,"l":0.7620,"c":0.7634,"v":9},
{"p":"AUD","d":"2021-01-29","o":0.7634,"h":0.7660,"l":0.7560,"c":0.7610,"v":10},
{"p":"AUD","d":"2021-02-05","o":0.7610,"h":0.7745,"l":0.7600,"c":0.7728,"v":10},
{"p":"AUD","d":"2021-02-12","o":0.7728,"h":0.7875,"l":0.7715,"c":0.7860,"v":11},
{"p":"AUD","d":"2021-02-19","o":0.7860,"h":0.8012,"l":0.7675,"c":0.7690,"v":14},
{"p":"AUD","d":"2021-02-26","o":0.7690,"h":0.7740,"l":0.7620,"c":0.7672,"v":13},
{"p":"AUD","d":"2021-03-05","o":0.7672,"h":0.7840,"l":0.7655,"c":0.7759,"v":12},
{"p":"AUD","d":"2021-03-12","o":0.7759,"h":0.7780,"l":0.7720,"c":0.7745,"v":11},
{"p":"AUD","d":"2021-03-19","o":0.7745,"h":0.7760,"l":0.7590,"c":0.7602,"v":10},
{"p":"AUD","d":"2021-03-26","o":0.7602,"h":0.7640,"l":0.7530,"c":0.7587,"v":9},
{"p":"AUD","d":"2021-04-02","o":0.7587,"h":0.7630,"l":0.7570,"c":0.7610,"v":8},
{"p":"AUD","d":"2021-04-09","o":0.7610,"h":0.7750,"l":0.7600,"c":0.7734,"v":8},
{"p":"AUD","d":"2021-04-16","o":0.7734,"h":0.7760,"l":0.7710,"c":0.7740,"v":9},
{"p":"AUD","d":"2021-04-23","o":0.7740,"h":0.7760,"l":0.7690,"c":0.7705,"v":9},
{"p":"AUD","d":"2021-04-30","o":0.7705,"h":0.7850,"l":0.7695,"c":0.7838,"v":10},
{"p":"AUD","d":"2021-05-07","o":0.7838,"h":0.7890,"l":0.7800,"c":0.7820,"v":9},
{"p":"AUD","d":"2021-05-14","o":0.7820,"h":0.7830,"l":0.7740,"c":0.7760,"v":10},
{"p":"AUD","d":"2021-05-21","o":0.7760,"h":0.7790,"l":0.7720,"c":0.7750,"v":9},
{"p":"AUD","d":"2021-05-28","o":0.7750,"h":0.7780,"l":0.7710,"c":0.7740,"v":10},
{"p":"AUD","d":"2021-06-04","o":0.7740,"h":0.7760,"l":0.7460,"c":0.7476,"v":21},
{"p":"AUD","d":"2021-06-11","o":0.7476,"h":0.7590,"l":0.7460,"c":0.7577,"v":9},
{"p":"AUD","d":"2021-06-18","o":0.7577,"h":0.7595,"l":0.7460,"c":0.7476,"v":9},
{"p":"AUD","d":"2021-06-25","o":0.7476,"h":0.7490,"l":0.7375,"c":0.7388,"v":10},
{"p":"AUD","d":"2021-07-02","o":0.7388,"h":0.7405,"l":0.7310,"c":0.7351,"v":9},
{"p":"AUD","d":"2021-07-09","o":0.7351,"h":0.7365,"l":0.7320,"c":0.7340,"v":9},
{"p":"AUD","d":"2021-07-16","o":0.7340,"h":0.7370,"l":0.7325,"c":0.7345,"v":8},
{"p":"AUD","d":"2021-07-23","o":0.7345,"h":0.7420,"l":0.7330,"c":0.7360,"v":8},
{"p":"AUD","d":"2021-07-30","o":0.7360,"h":0.7410,"l":0.7350,"c":0.7380,"v":9},
{"p":"AUD","d":"2021-08-06","o":0.7380,"h":0.7395,"l":0.7095,"c":0.7105,"v":8},
{"p":"AUD","d":"2021-08-13","o":0.7105,"h":0.7325,"l":0.7095,"c":0.7313,"v":9},
{"p":"AUD","d":"2021-08-20","o":0.7313,"h":0.7475,"l":0.7300,"c":0.7461,"v":9},
{"p":"AUD","d":"2021-08-27","o":0.7461,"h":0.7470,"l":0.7250,"c":0.7263,"v":17},
{"p":"AUD","d":"2021-09-03","o":0.7263,"h":0.7280,"l":0.7230,"c":0.7255,"v":9},
{"p":"AUD","d":"2021-09-10","o":0.7255,"h":0.7275,"l":0.7170,"c":0.7260,"v":10},
{"p":"AUD","d":"2021-09-17","o":0.7260,"h":0.7330,"l":0.7245,"c":0.7313,"v":10},
{"p":"AUD","d":"2021-09-24","o":0.7313,"h":0.7435,"l":0.7300,"c":0.7420,"v":10},
{"p":"AUD","d":"2021-10-01","o":0.7420,"h":0.7555,"l":0.7410,"c":0.7514,"v":10},
{"p":"AUD","d":"2021-10-08","o":0.7514,"h":0.7545,"l":0.7480,"c":0.7500,"v":9},
{"p":"AUD","d":"2021-10-15","o":0.7500,"h":0.7515,"l":0.7370,"c":0.7382,"v":9},
{"p":"AUD","d":"2021-10-22","o":0.7382,"h":0.7395,"l":0.7305,"c":0.7319,"v":9},
{"p":"AUD","d":"2021-10-29","o":0.7319,"h":0.7330,"l":0.7200,"c":0.7213,"v":8},
{"p":"AUD","d":"2021-11-05","o":0.7213,"h":0.7225,"l":0.7090,"c":0.7105,"v":9},
{"p":"AUD","d":"2021-11-12","o":0.7105,"h":0.7115,"l":0.6985,"c":0.6990,"v":9},
{"p":"AUD","d":"2021-11-19","o":0.6990,"h":0.7180,"l":0.6985,"c":0.7162,"v":10},
{"p":"AUD","d":"2021-11-26","o":0.7162,"h":0.7225,"l":0.7110,"c":0.7130,"v":6,"t":"05:00 PM","chg":"-0.0045 (0.62%)","tag":"0.7130"},
{"p":"NZD","d":"2020-09-04","o":0.6540,"h":0.6610,"l":0.6480,"c":0.6521,"v":9},
{"p":"NZD","d":"2020-09-11","o":0.6521,"h":0.6740,"l":0.6510,"c":0.6723,"v":9},
{"p":"NZD","d":"2020-09-18","o":0.6723,"h":0.6780,"l":0.6650,"c":0.6710,"v":10},
{"p":"NZD","d":"2020-09-25","o":0.6710,"h":0.6790,"l":0.6700,"c":0.6758,"v":18},
{"p":"NZD","d":"2020-10-02","o":0.6758,"h":0.6770,"l":0.6500,"c":0.6521,"v":12},
{"p":"NZD","d":"2020-10-09","o":0.6521,"h":0.6630,"l":0.6510,"c":0.6616,"v":9},
{"p":"NZD","d":"2020-10-16","o":0.6616,"h":0.6670,"l":0.6600,"c":0.6650,"v":9},
{"p":"NZD","d":"2020-10-23","o":0.6650,"h":0.6665,"l":0.6580,"c":0.6597,"v":8},
{"p":"NZD","d":"2020-10-30","o":0.6597,"h":0.6690,"l":0.6580,"c":0.6675,"v":8},
{"p":"NZD","d":"2020-11-06","o":0.6675,"h":0.6690,"l":0.6575,"c":0.6589,"v":9},
{"p":"NZD","d":"2020-11-13","o":0.6589,"h":0.6780,"l":0.6580,"c":0.6764,"v":11},
{"p":"NZD","d":"2020-11-20","o":0.6764,"h":0.6845,"l":0.6750,"c":0.6831,"v":10},
{"p":"NZD","d":"2020-11-27","o":0.6831,"h":0.6945,"l":0.6820,"c":0.6931,"v":9},
{"p":"NZD","d":"2020-12-04","o":0.6931,"h":0.7035,"l":0.6915,"c":0.7020,"v":9},
{"p":"NZD","d":"2020-12-11","o":0.7020,"h":0.7045,"l":0.7005,"c":0.7030,"v":8},
{"p":"NZD","d":"2020-12-18","o":0.7030,"h":0.7075,"l":0.7015,"c":0.7047,"v":10},
{"p":"NZD","d":"2020-12-25","o":0.7047,"h":0.7145,"l":0.7035,"c":0.7128,"v":12},
{"p":"NZD","d":"2021-01-01","o":0.7128,"h":0.7310,"l":0.7010,"c":0.7222,"v":27},
{"p":"NZD","d":"2021-01-08","o":0.7222,"h":0.7235,"l":0.7110,"c":0.7128,"v":10},
{"p":"NZD","d":"2021-01-15","o":0.7128,"h":0.7210,"l":0.7115,"c":0.7190,"v":12},
{"p":"NZD","d":"2021-01-22","o":0.7190,"h":0.7215,"l":0.7160,"c":0.7175,"v":10},
{"p":"NZD","d":"2021-01-29","o":0.7175,"h":0.7225,"l":0.7160,"c":0.7195,"v":9},
{"p":"NZD","d":"2021-02-05","o":0.7195,"h":0.7240,"l":0.7185,"c":0.7217,"v":8},
{"p":"NZD","d":"2021-02-12","o":0.7217,"h":0.7305,"l":0.7200,"c":0.7290,"v":10},
{"p":"NZD","d":"2021-02-19","o":0.7290,"h":0.7465,"l":0.7210,"c":0.7228,"v":14},
{"p":"NZD","d":"2021-02-26","o":0.7228,"h":0.7245,"l":0.7140,"c":0.7155,"v":13},
{"p":"NZD","d":"2021-03-05","o":0.7155,"h":0.7180,"l":0.7100,"c":0.7160,"v":12},
{"p":"NZD","d":"2021-03-12","o":0.7160,"h":0.7190,"l":0.7130,"c":0.7147,"v":10},
{"p":"NZD","d":"2021-03-19","o":0.7147,"h":0.7160,"l":0.6950,"c":0.6980,"v":9},
{"p":"NZD","d":"2021-03-26","o":0.6980,"h":0.7010,"l":0.6940,"c":0.6993,"v":8},
{"p":"NZD","d":"2021-04-02","o":0.6993,"h":0.7050,"l":0.6980,"c":0.7034,"v":8},
{"p":"NZD","d":"2021-04-09","o":0.7034,"h":0.7150,"l":0.7020,"c":0.7136,"v":9},
{"p":"NZD","d":"2021-04-16","o":0.7136,"h":0.7205,"l":0.7120,"c":0.7187,"v":9},
{"p":"NZD","d":"2021-04-23","o":0.7187,"h":0.7210,"l":0.7165,"c":0.7182,"v":8},
{"p":"NZD","d":"2021-04-30","o":0.7182,"h":0.7290,"l":0.7170,"c":0.7276,"v":9},
{"p":"NZD","d":"2021-05-07","o":0.7276,"h":0.7300,"l":0.7220,"c":0.7236,"v":10},
{"p":"NZD","d":"2021-05-14","o":0.7236,"h":0.7255,"l":0.7135,"c":0.7147,"v":10},
{"p":"NZD","d":"2021-05-21","o":0.7147,"h":0.7300,"l":0.7135,"c":0.7249,"v":11},
{"p":"NZD","d":"2021-05-28","o":0.7249,"h":0.7265,"l":0.7185,"c":0.7200,"v":12},
{"p":"NZD","d":"2021-06-04","o":0.7200,"h":0.7215,"l":0.6900,"c":0.6912,"v":19},
{"p":"NZD","d":"2021-06-11","o":0.6912,"h":0.7060,"l":0.6900,"c":0.7047,"v":9},
{"p":"NZD","d":"2021-06-18","o":0.7047,"h":0.7060,"l":0.6980,"c":0.6993,"v":10},
{"p":"NZD","d":"2021-06-25","o":0.6993,"h":0.7020,"l":0.6945,"c":0.6985,"v":8},
{"p":"NZD","d":"2021-07-02","o":0.6985,"h":0.6995,"l":0.6940,"c":0.6975,"v":9},
{"p":"NZD","d":"2021-07-09","o":0.6975,"h":0.6990,"l":0.6900,"c":0.6953,"v":9},
{"p":"NZD","d":"2021-07-16","o":0.6953,"h":0.6990,"l":0.6940,"c":0.6965,"v":8},
{"p":"NZD","d":"2021-07-23","o":0.6965,"h":0.7050,"l":0.6955,"c":0.7034,"v":9},
{"p":"NZD","d":"2021-07-30","o":0.7034,"h":0.7060,"l":0.7010,"c":0.7030,"v":10},
{"p":"NZD","d":"2021-08-06","o":0.7030,"h":0.7045,"l":0.6805,"c":0.6818,"v":16},
{"p":"NZD","d":"2021-08-13","o":0.6818,"h":0.7020,"l":0.6805,"c":0.7007,"v":9},
{"p":"NZD","d":"2021-08-20","o":0.7007,"h":0.7170,"l":0.6995,"c":0.7155,"v":10},
{"p":"NZD","d":"2021-08-27","o":0.7155,"h":0.7160,"l":0.7000,"c":0.7012,"v":13},
{"p":"NZD","d":"2021-09-03","o":0.7012,"h":0.7030,"l":0.6960,"c":0.6980,"v":11},
{"p":"NZD","d":"2021-09-10","o":0.6980,"h":0.6995,"l":0.6865,"c":0.6926,"v":10},
{"p":"NZD","d":"2021-09-17","o":0.6926,"h":0.6940,"l":0.6880,"c":0.6904,"v":10},
{"p":"NZD","d":"2021-09-24","o":0.6904,"h":0.7065,"l":0.6890,"c":0.7055,"v":9},
{"p":"NZD","d":"2021-10-01","o":0.7055,"h":0.7215,"l":0.7045,"c":0.7136,"v":9},
{"p":"NZD","d":"2021-10-08","o":0.7136,"h":0.7200,"l":0.7120,"c":0.7150,"v":8},
{"p":"NZD","d":"2021-10-15","o":0.7150,"h":0.7160,"l":0.7080,"c":0.7093,"v":8},
{"p":"NZD","d":"2021-10-22","o":0.7093,"h":0.7105,"l":0.7005,"c":0.7020,"v":9},
{"p":"NZD","d":"2021-10-29","o":0.7020,"h":0.7035,"l":0.6960,"c":0.6974,"v":9},
{"p":"NZD","d":"2021-11-05","o":0.6974,"h":0.6985,"l":0.6785,"c":0.6796,"v":10},
{"p":"NZD","d":"2021-11-12","o":0.6796,"h":0.6820,"l":0.6725,"c":0.6737,"v":10},
{"p":"NZD","d":"2021-11-19","o":0.6737,"h":0.6820,"l":0.6725,"c":0.6777,"v":12},
{"p":"NZD","d":"2021-11-26","o":0.6777,"h":0.6790,"l":0.6695,"c":0.6725,"v":8,"t":"05:00 PM","chg":"-0.0051 (0.75%)","tag":"0.6725"}
]},
"facet":{"field":"p","type":"nominal","sort":["USD","EUR","JPY","GBP","CAD","CHF","AUD","NZD"],"header":{"title":null,"labels":false,"labelExpr":"''","labelFontSize":0,"labelPadding":0,"titlePadding":0}},
"columns":4,
"spacing":{"row":38,"column":69},
"bounds":"flush",
"resolve":{"scale":{"x":"independent","y":"independent"},"axis":{"x":"independent","y":"independent"}},
"spec":{
"width":260,"height":148,
"resolve":{"scale":{"y":"independent"}},
"layer":[
{"mark":{"type":"bar","width":4},
 "encoding":{
  "x":{"field":"d","type":"temporal","scale":{"type":"utc","nice":false,"padding":2},"axis":{"values":[{"year":2021,"month":1,"date":1,"utc":true},{"year":2021,"month":6,"date":21,"utc":true}],"labelExpr":"utcmonth(datum.value) == 0 ? '2021' : ''","title":null,"grid":true,"gridDash":[2,2],"gridColor":"#cfcfcf","ticks":false,"domain":false,"labelFontSize":8,"labelFontWeight":"bold","labelColor":"#666666","labelPadding":5,"labelFlush":false,"labelOverlap":false}},
  "y":{"field":"v","type":"quantitative","scale":{"domain":[0,148]},"axis":{"orient":"left","title":"WEEKLY","titleFontSize":14.5,"titleFontWeight":"bold","titleColor":"#d2d2d2","titlePadding":3,"titleY":77,"labels":false,"ticks":false,"grid":false,"domain":true,"domainColor":"#cfcfcf","domainDash":[2,2]}},
  "color":{"condition":{"test":"datum.c >= datum.o","value":"#a7dd9f"},"value":"#fbb5b5"}
 }},
{"layer":[
 {"mark":{"type":"rule","strokeWidth":1},
  "encoding":{
   "x":{"field":"d","type":"temporal","scale":{"type":"utc","nice":false,"padding":2}},
   "y":{"field":"l","type":"quantitative","scale":{"zero":false,"nice":6},"axis":{"orient":"right","title":null,"tickCount":6,"grid":true,"gridDash":[2,2],"gridColor":"#cfcfcf","ticks":false,"domain":false,"labelPadding":4,"labelFontSize":8.5,"labelColor":"#8a8a8a","labelFlush":false,"labelOverlap":false,"labelExpr":"datum.value > 10 ? format(datum.value, '.2f') : format(datum.value, '.4f')"}},
   "y2":{"field":"h"},
   "color":{"condition":{"test":"datum.c >= datum.o","value":"#0b6e0b"},"value":"#6e0a0a"}
  }},
 {"mark":{"type":"bar","width":3,"strokeWidth":0.8},
  "encoding":{
   "x":{"field":"d","type":"temporal","scale":{"type":"utc","nice":false,"padding":2}},
   "y":{"field":"o","type":"quantitative","scale":{"zero":false,"nice":6},"axis":{"orient":"right","title":null,"tickCount":6,"grid":true,"gridDash":[2,2],"gridColor":"#cfcfcf","ticks":false,"domain":false,"labelPadding":4,"labelFontSize":8.5,"labelColor":"#8a8a8a","labelFlush":false,"labelOverlap":false,"labelExpr":"datum.value > 10 ? format(datum.value, '.2f') : format(datum.value, '.4f')"}},
   "y2":{"field":"c"},
   "fill":{"condition":{"test":"datum.c >= datum.o","value":"#2fd12f"},"value":"#c9151b"},
   "stroke":{"condition":{"test":"datum.c >= datum.o","value":"#0b6e0b"},"value":"#6e0a0a"}
  }},
 {"transform":[{"filter":"isValid(datum.tag)"}],
  "mark":{"type":"point","filled":true,"size":400,"opacity":1,"strokeWidth":0},
  "encoding":{
   "x":{"value":"width"},
   "y":{"field":"c","type":"quantitative","scale":{"zero":false,"nice":6},"axis":{"orient":"right","title":null,"tickCount":6,"grid":true,"gridDash":[2,2],"gridColor":"#cfcfcf","ticks":false,"domain":false,"labelPadding":4,"labelFontSize":8.5,"labelColor":"#8a8a8a","labelFlush":false,"labelOverlap":false,"labelExpr":"datum.value > 10 ? format(datum.value, '.2f') : format(datum.value, '.4f')"}},
   "shape":{"condition":{"test":"datum.p == 'USD'","value":"M0.35,-0.48H2.5V0.48H0.35Z"},"value":"M0.3,-0.48H2.9V0.48H0.3Z"},
   "color":{"value":"#ffff1a"}
  }},
 {"transform":[{"filter":"isValid(datum.tag)"}],
  "mark":{"type":"text","align":"left","baseline":"middle","dx":4,"fontSize":8.5,"color":"#1a1a1a"},
  "encoding":{
   "x":{"value":"width"},
   "y":{"field":"c","type":"quantitative","scale":{"zero":false,"nice":6},"axis":{"orient":"right","title":null,"tickCount":6,"grid":true,"gridDash":[2,2],"gridColor":"#cfcfcf","ticks":false,"domain":false,"labelPadding":4,"labelFontSize":8.5,"labelColor":"#8a8a8a","labelFlush":false,"labelOverlap":false,"labelExpr":"datum.value > 10 ? format(datum.value, '.2f') : format(datum.value, '.4f')"}},
   "text":{"field":"tag"}
  }}
]},
{"transform":[{"filter":"isValid(datum.tag)"}],
 "mark":{"type":"text","align":"left","baseline":"alphabetic","fontSize":20,"fontWeight":"bold","color":"#7f7f7f"},
 "encoding":{"x":{"value":-22.5},"y":{"value":4},"text":{"field":"p"}}},
{"transform":[{"filter":"isValid(datum.tag)"}],
 "mark":{"type":"text","align":"right","baseline":"alphabetic","fontSize":8.4,"color":"#4d4d4d"},
 "encoding":{"x":{"value":157},"y":{"value":-4.4},"text":{"field":"t"}}},
{"transform":[{"filter":"isValid(datum.tag)"}],
 "mark":{"type":"text","align":"right","baseline":"alphabetic","fontSize":9.2,"fontWeight":"bold"},
 "encoding":{"x":{"value":228},"y":{"value":-4.4},"text":{"field":"chg"},
  "color":{"condition":{"test":"indexof(datum.chg, '+') == 0","value":"#339933"},"value":"#cc2222"}}},
{"transform":[{"filter":"isValid(datum.tag)"}],
 "mark":{"type":"text","align":"left","baseline":"alphabetic","fontSize":8.5,"color":"#8ab4d8","font":"DejaVu Sans"},
 "encoding":{"x":{"value":233.5},"y":{"value":-5},"text":{"value":"⊜"}}},
{"transform":[{"filter":"isValid(datum.tag)"}],
 "mark":{"type":"text","align":"left","baseline":"alphabetic","fontSize":10,"color":"#8ab4d8"},
 "encoding":{"x":{"value":242.5},"y":{"value":-5},"text":{"value":"finviz.com"}}}
]
}
}
